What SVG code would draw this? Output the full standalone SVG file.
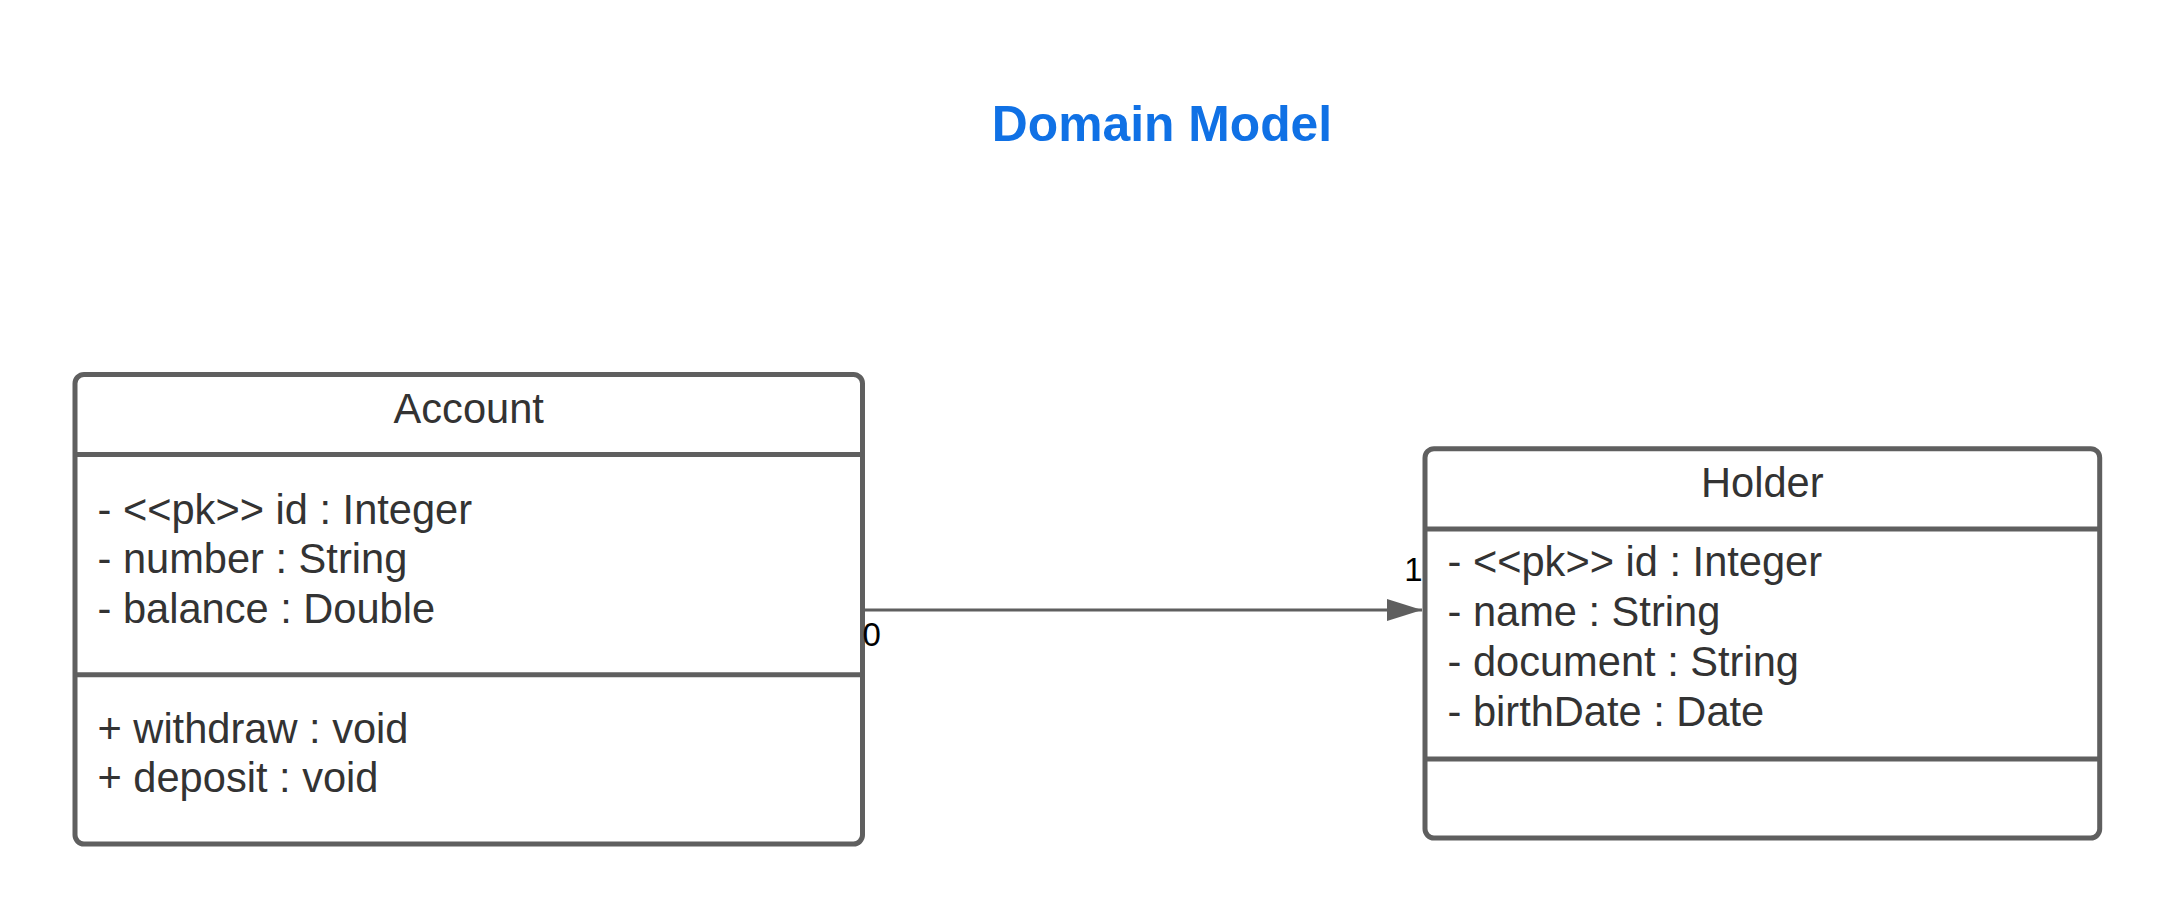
<svg xmlns="http://www.w3.org/2000/svg" width="2175" height="921" viewBox="0 0 2175 921">
<style>
.box{fill:#ffffff;stroke:#5f5f5f;stroke-width:5}
.div{stroke:#5f5f5f;stroke-width:5;fill:none}
.t{font-family:"Liberation Sans",Arial,sans-serif;font-size:41.6px;fill:#333333}
.c{text-anchor:middle}
.lbl{font-family:"Liberation Sans",Arial,sans-serif;font-size:33px;fill:#000000}
.title{font-family:"Liberation Sans",Arial,sans-serif;font-size:49.8px;font-weight:bold;fill:#1071e5;text-anchor:middle}
.conn{stroke:#5f5f5f;stroke-width:3.2;fill:none}
</style>
<defs>
<marker id="arrow" markerUnits="userSpaceOnUse" markerWidth="40" markerHeight="26" refX="35" refY="11" orient="auto">
<path d="M0,0 L35,11 L0,22 Z" fill="#5f5f5f"/>
</marker>
</defs>
<rect width="2175" height="921" fill="#ffffff"/>
<text class="title" x="1162" y="141">Domain Model</text>
<g id="account">
<rect class="box" x="75" y="374.5" width="787.5" height="469.5" rx="9"/>
<line class="div" x1="75" y1="454.5" x2="862.5" y2="454.5"/>
<line class="div" x1="75" y1="674.7" x2="862.5" y2="674.7"/>
<text class="t c" x="468.7" y="422.5">Account</text>
<text class="t" x="97.5" y="523.5">- &lt;&lt;pk&gt;&gt; id : Integer</text>
<text class="t" x="97.5" y="573">- number : String</text>
<text class="t" x="97.5" y="622.5">- balance : Double</text>
<text class="t" x="97.5" y="742.5">+ withdraw : void</text>
<text class="t" x="97.5" y="792">+ deposit : void</text>
</g>
<g id="holder">
<rect class="box" x="1425" y="448.7" width="674.7" height="389.3" rx="9"/>
<line class="div" x1="1425" y1="529" x2="2099.7" y2="529"/>
<line class="div" x1="1425" y1="759" x2="2099.7" y2="759"/>
<text class="t c" x="1762.3" y="496.7">Holder</text>
<text class="t" x="1447.5" y="576">- &lt;&lt;pk&gt;&gt; id : Integer</text>
<text class="t" x="1447.5" y="626">- name : String</text>
<text class="t" x="1447.5" y="676">- document : String</text>
<text class="t" x="1447.5" y="726">- birthDate : Date</text>
</g>
<g id="connectors">
<line class="conn" x1="862.5" y1="610" x2="1422" y2="610" marker-end="url(#arrow)"/>
<text class="lbl" x="862.5" y="645.5">0</text>
<text class="lbl" x="1422.5" y="581" text-anchor="end">1</text>
</g>
</svg>
